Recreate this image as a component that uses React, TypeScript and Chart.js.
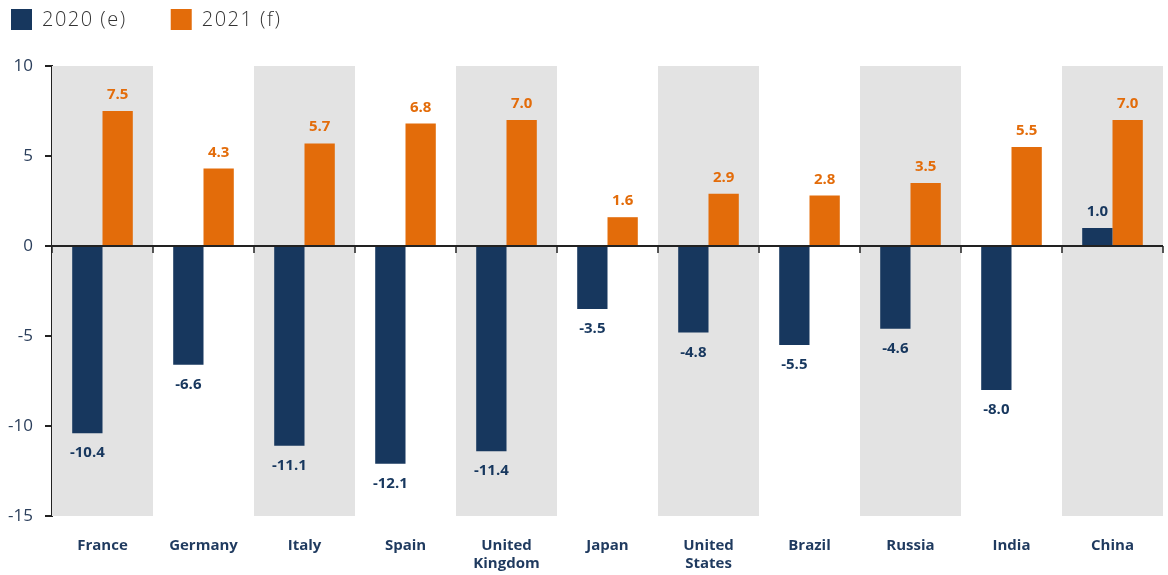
import React, { useEffect, useRef } from "react";
import { Chart, registerables } from "chart.js";

Chart.register(...registerables);

const categories: (string | string[])[] = [
  "France",
  "Germany",
  "Italy",
  "Spain",
  ["United", "Kingdom"],
  "Japan",
  ["United", "States"],
  "Brazil",
  "Russia",
  "India",
  "China",
];
const series2020 = [-10.4, -6.6, -11.1, -12.1, -11.4, -3.5, -4.8, -5.5, -4.6, -8.0, 1.0];
const series2021 = [7.5, 4.3, 5.7, 6.8, 7.0, 1.6, 2.9, 2.8, 3.5, 5.5, 7.0];
const seriesLabels = ["2020 (e)", "2021 (f)"];
const yTicks = [10, 5, 0, -5, -10, -15];

const BLUE = "#17375e";
const ORANGE = "#e36c0a";
const BAND = "#e3e3e3";
const AXIS = "#222222";
const FONT = "'Open Sans', 'DejaVu Sans', sans-serif";

const bandsPlugin = {
  id: "bands",
  beforeDatasetsDraw(chart: any) {
    const { ctx, chartArea } = chart;
    const xs = chart.scales.x;
    const w = (chartArea.right - chartArea.left) / categories.length;
    ctx.save();
    ctx.fillStyle = BAND;
    categories.forEach((_, i) => {
      if (i % 2 !== 0) return;
      const cx = xs.getPixelForValue(i);
      ctx.fillRect(cx - w / 2, chartArea.top, w, chartArea.bottom - chartArea.top);
    });
    ctx.restore();
  },
};

const overlayPlugin = {
  id: "overlay",
  afterDatasetsDraw(chart: any) {
    const { ctx, chartArea } = chart;
    const xs = chart.scales.x;
    const ys = chart.scales.y;
    const y0 = ys.getPixelForValue(0);
    const w = (chartArea.right - chartArea.left) / categories.length;
    ctx.save();
    ctx.strokeStyle = AXIS;
    ctx.lineWidth = 2;
    ctx.beginPath();
    ctx.moveTo(chartArea.left, y0);
    ctx.lineTo(chartArea.right, y0);
    ctx.stroke();
    ctx.lineWidth = 1.5;
    for (let i = 0; i <= categories.length; i++) {
      const x = xs.getPixelForValue(0) - w / 2 + i * w;
      ctx.beginPath();
      ctx.moveTo(x, y0);
      ctx.lineTo(x, y0 + 7);
      ctx.stroke();
    }
    ctx.font = `700 15px ${FONT}`;
    ctx.textAlign = "center";
    chart.data.datasets.forEach((ds: any, di: number) => {
      const meta = chart.getDatasetMeta(di);
      ctx.fillStyle = di === 0 ? BLUE : ORANGE;
      meta.data.forEach((el: any, i: number) => {
        const v = ds.data[i];
        const txt = v.toFixed(1);
        if (v >= 0) {
          ctx.textBaseline = "alphabetic";
          ctx.fillText(txt, el.x, el.y - 12);
        } else {
          ctx.textBaseline = "middle";
          ctx.fillText(txt, el.x, el.y + 20);
        }
      });
    });
    ctx.restore();
  },
};

const legendPlugin = {
  id: "customLegend",
  afterDraw(chart: any) {
    const { ctx } = chart;
    ctx.save();
    ctx.font = `300 20px ${FONT}`;
    try {
      (ctx as any).letterSpacing = "1.5px";
    } catch (e) {}
    ctx.textBaseline = "middle";
    ctx.textAlign = "left";
    let x = 11;
    const y = 9;
    const box = 21;
    chart.data.datasets.forEach((ds: any) => {
      ctx.fillStyle = ds.backgroundColor;
      ctx.fillRect(x, y, box, box);
      ctx.fillStyle = "#333333";
      const tx = x + box + 10;
      ctx.fillText(ds.label, tx, y + box / 2 + 1);
      x = tx + ctx.measureText(ds.label).width + 44;
    });
    ctx.restore();
  },
};

export default function App() {
  const ref = useRef<HTMLCanvasElement | null>(null);

  useEffect(() => {
    document.body.style.margin = "0";
    document.body.style.background = "#ffffff";
    if (!ref.current) return;
    const chart = new Chart(ref.current, {
      type: "bar",
      data: {
        labels: categories as any,
        datasets: [
          {
            label: seriesLabels[0],
            data: series2020,
            backgroundColor: BLUE,
            categoryPercentage: 0.6,
            barPercentage: 1.0,
          },
          {
            label: seriesLabels[1],
            data: series2021,
            backgroundColor: ORANGE,
            categoryPercentage: 0.6,
            barPercentage: 1.0,
          },
        ],
      },
      options: {
        animation: false,
        responsive: true,
        maintainAspectRatio: false,
        layout: { padding: { top: 66, right: 5, left: 0, bottom: 0 } },
        plugins: {
          legend: { display: false },
          tooltip: { enabled: false },
        },
        scales: {
          x: {
            offset: true,
            grid: { display: false, drawTicks: false },
            border: { display: false },
            ticks: {
              color: "#1f3a5f",
              font: { family: FONT, size: 15, weight: "bold", lineHeight: 1.25 },
              padding: 20,
              maxRotation: 0,
              autoSkip: false,
            },
            afterFit(scale: any) {
              scale.height = 59;
            },
          },
          y: {
            min: -15,
            max: 10,
            ticks: {
              stepSize: 5,
              color: "#2b3f5c",
              font: { family: FONT, size: 17, weight: "normal" },
              padding: 12,
            },
            afterBuildTicks(scale: any) {
              scale.ticks = yTicks.map((v) => ({ value: v }));
            },
            grid: {
              drawOnChartArea: false,
              drawTicks: true,
              tickLength: 7,
              color: AXIS,
              lineWidth: 2,
            },
            border: { display: true, color: AXIS, width: 2 },
            afterFit(scale: any) {
              scale.width = 52;
            },
          },
        },
      },
      plugins: [bandsPlugin, overlayPlugin, legendPlugin],
    });
    return () => chart.destroy();
  }, []);

  return (
    <div style={{ width: 1168, height: 575, position: "relative" }}>
      <canvas ref={ref} />
    </div>
  );
}
